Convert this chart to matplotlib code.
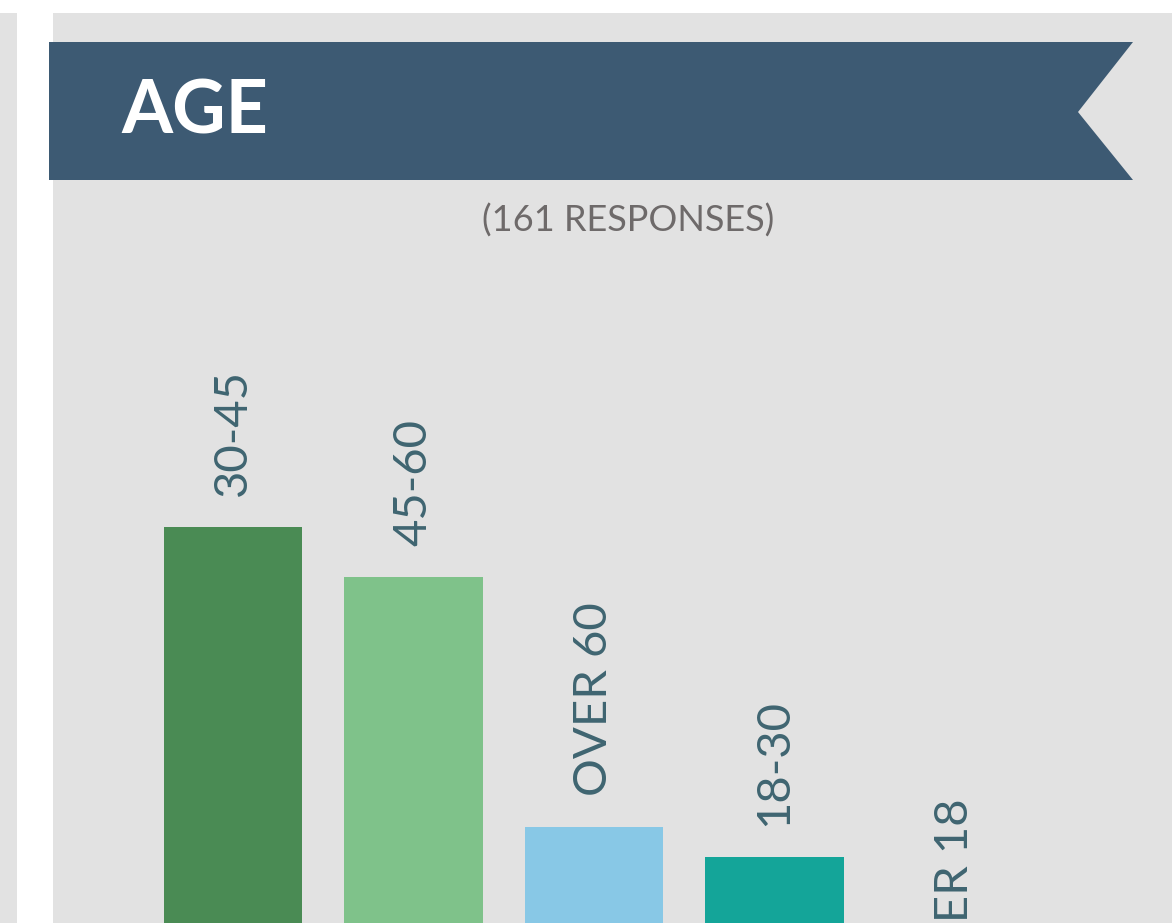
import matplotlib.pyplot as plt
from matplotlib.patches import Rectangle, Polygon

# data: bar heights (arbitrary units, baseline lies below the visible area)
groups = ['30-45', '45-60', 'OVER 60', '18-30', 'UNDER 18']
values = [55.3, 50.3, 25.3, 22.3, 2.0]
colors = ['#4a8b54', '#7fc28a', '#88c8e6', '#14a599', '#14a599']

title = 'AGE'
subtitle = '(161 RESPONSES)'

W, H = 1172, 923
fig = plt.figure(figsize=(W / 100, H / 100), dpi=100)
fig.patch.set_facecolor('#e2e2e2')

# background shapes in pixel coordinates
bg = fig.add_axes([0, 0, 1, 1])
bg.set_xlim(0, W)
bg.set_ylim(H, 0)
bg.axis('off')
bg.add_patch(Rectangle((17, 0), 36, H, color='white', lw=0))
bg.add_patch(Rectangle((0, 0), W, 13, color='white', lw=0))
bg.add_patch(Polygon([(49, 42), (1133, 42), (1078, 112), (1133, 180), (49, 180)],
                     closed=True, color='#3d5a73', lw=0))
bg.text(121, 112, title, color='white', fontsize=53, fontweight='bold',
        family='Lato', ha='left', va='center')
bg.text(628, 221, subtitle, color='#6e6a6a', fontsize=26, family='Lato',
        ha='center', va='center')

# bar axes mapped so that one unit = 10 px, baseline at y=1080 px
step = 180.5
left_px = 233 - step / 2
top_px, bot_px = 250, H
ax = fig.add_axes([left_px / W, 0, 5 * step / W, (bot_px - top_px) / H])
ax.set_xlim(-0.5, 4.5)
ax.set_ylim((1080 - bot_px) / 10, (1080 - top_px) / 10)
ax.axis('off')
ax.patch.set_alpha(0)

x = range(len(groups))
ax.bar(x, values, width=0.77, color=colors, linewidth=0)
for i, v in zip(x, values):
    ax.text(i, v + 3.1, groups[i], rotation=90, ha='center', va='bottom',
            fontsize=34, color='#3f6571', family='Lato', clip_on=False)

fig.savefig('out.png', dpi=100, facecolor=fig.get_facecolor())
